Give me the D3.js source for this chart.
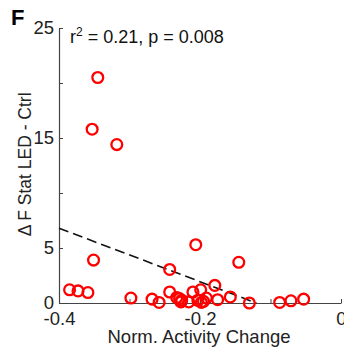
<!DOCTYPE html>
<html>
<head>
<meta charset="utf-8">
<script src="https://cdn.jsdelivr.net/npm/d3@7"></script>
<style>
  body { margin: 0; background: #fff; }
  svg { display: block; font-family: "Liberation Sans", Arial, sans-serif; }
</style>
</head>
<body>
<div id="chart"></div>
<script>
// scatter of activity change vs delta F stat, with linear fit

// data
var activityChange = [-0.345, -0.353, -0.318, -0.351, -0.385, -0.373, -0.359, -0.298,
  -0.268, -0.258, -0.243, -0.243, -0.229, -0.227, -0.226, -0.233, -0.210, -0.206,
  -0.199, -0.203, -0.198, -0.195, -0.191, -0.216, -0.179, -0.175, -0.157, -0.145,
  -0.130, -0.087, -0.071, -0.053];
var deltaFStat = [20.5, 15.8, 14.4, 3.9, 1.2, 1.1, 0.95, 0.45,
  0.35, 0.05, 3.05, 1.0, 0.4, 0.1, 0.25, 0.5, 1.0, 5.3,
  1.2, 0.25, 0.05, 0.15, 0.45, 0.1, 1.6, 0.3, 0.55, 3.7,
  0.0, 0.05, 0.2, 0.35];

// fitted line y = slope * x + intercept, drawn over fitRange
var fitSlope = -24.3;
var fitIntercept = -2.92;
var fitRange = [-0.4, -0.12];

var xTicks = [-0.4, -0.3, -0.2, -0.1, 0];
var xTickLabels = ["-0.4", "", "-0.2", "", "0"];
var yTicks = [0, 5, 10, 15, 20, 25];
var yTickLabels = ["0", "5", "", "15", "", "25"];

var W = 344, H = 352;
var margin = {top: 28, right: 3, bottom: 49, left: 59};
var width = W - margin.left - margin.right;
var height = H - margin.top - margin.bottom;

var svg = d3.select("#chart").append("svg")
  .attr("width", W)
  .attr("height", H);

var g = svg.append("g")
  .attr("transform", "translate(" + margin.left + "," + margin.top + ")");

var x = d3.scaleLinear().domain([-0.4, 0]).range([0, width]);
var y = d3.scaleLinear().domain([0, 25]).range([height, 0]);

var axisColor = "#444";

// axes, ticks pointing inward
var xAxis = g.append("g")
  .attr("transform", "translate(0," + height + ")")
  .call(d3.axisBottom(x).tickValues(xTicks)
    .tickSizeInner(-4).tickSizeOuter(0).tickPadding(9)
    .tickFormat(function(d, i) { return xTickLabels[i]; }));

var yAxis = g.append("g")
  .call(d3.axisLeft(y).tickValues(yTicks)
    .tickSizeInner(-4).tickSizeOuter(0).tickPadding(5)
    .tickFormat(function(d, i) { return yTickLabels[i]; }));

[xAxis, yAxis].forEach(function(a) {
  a.select(".domain").attr("stroke", axisColor).attr("stroke-width", 1.2);
  a.selectAll(".tick line").attr("stroke", axisColor);
  a.selectAll("text").attr("fill", "#222").style("font-size", "18.5px");
});

// regression line
g.append("line")
  .attr("x1", x(fitRange[0]))
  .attr("y1", y(fitSlope * fitRange[0] + fitIntercept))
  .attr("x2", x(fitRange[1]))
  .attr("y2", y(fitSlope * fitRange[1] + fitIntercept))
  .attr("stroke", "#111")
  .attr("stroke-width", 1.6)
  .attr("stroke-dasharray", "10,5");

// points
g.selectAll(".pt")
  .data(activityChange)
  .enter().append("circle")
  .attr("class", "pt")
  .attr("cx", function(d) { return x(d); })
  .attr("cy", function(d, i) { return y(deltaFStat[i]); })
  .attr("r", 5.4)
  .attr("fill", "none")
  .attr("stroke", "#f00")
  .attr("stroke-width", 2.3);

// stats text
g.append("text")
  .attr("x", 11)
  .attr("y", 15)
  .style("font-size", "18px")
  .attr("fill", "#111")
  .html('r<tspan dy="-7" font-size="12px">2</tspan><tspan dy="7"> = 0.21, p = 0.008</tspan>');

// axis labels
svg.append("text")
  .attr("x", margin.left + x(-0.2) - 1)
  .attr("y", 343)
  .attr("text-anchor", "middle")
  .style("font-size", "18.5px")
  .attr("fill", "#222")
  .text("Norm. Activity Change");

svg.append("text")
  .attr("transform", "translate(31," + (margin.top + y(12.6)) + ")rotate(-90)")
  .attr("text-anchor", "middle")
  .style("font-size", "17.5px")
  .attr("fill", "#222")
  .text("\u0394 F Stat LED - Ctrl");

// panel letter
svg.append("text")
  .attr("x", 11)
  .attr("y", 25)
  .style("font-size", "22px")
  .style("font-weight", "bold")
  .attr("fill", "#000")
  .text("F");
</script>
</body>
</html>
